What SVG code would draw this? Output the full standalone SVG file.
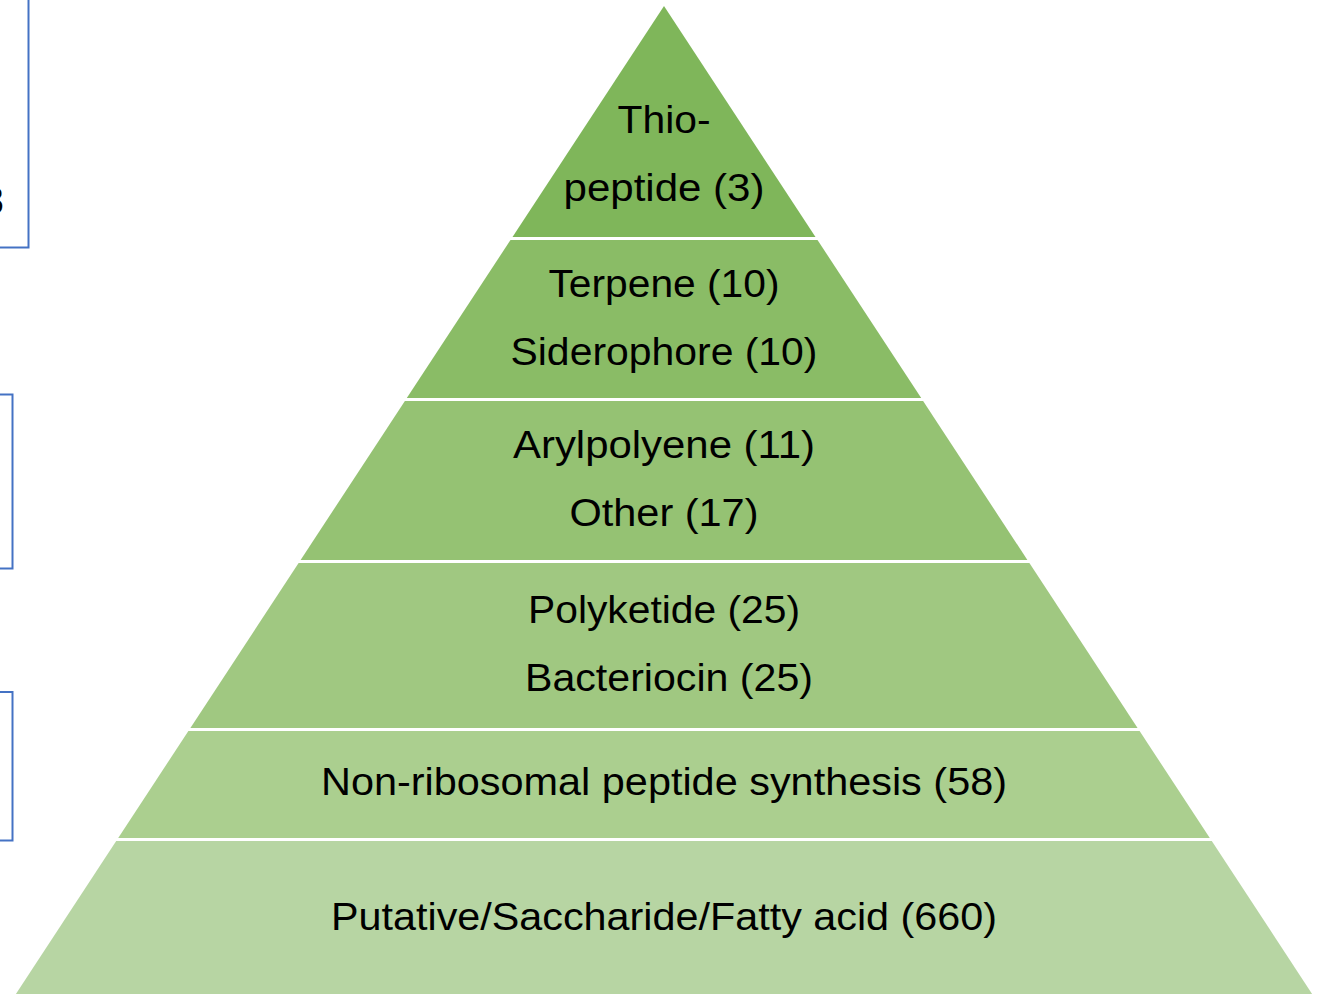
<svg xmlns="http://www.w3.org/2000/svg" width="1318" height="994" viewBox="0 0 1318 994">
<style>
.t{font-family:"Liberation Sans",Arial,sans-serif;font-size:38px;fill:#000;text-anchor:middle}
.box{fill:none;stroke:#4472C4;stroke-width:2}
</style>
<rect width="1318" height="994" fill="#fff"/>
<g id="side-boxes">
<rect class="box" x="-20" y="-10" width="48.5" height="257.5"/>
<text class="t" x="4" y="214" style="text-anchor:end">3</text>
<rect class="box" x="-20" y="394.5" width="32.5" height="174"/>
<rect class="box" x="-20" y="692" width="32.5" height="148.5"/>
</g>
<g id="tier1">
<polygon points="664,6 815.5,237 512.5,237" fill="#7FB65A"/>
<text class="t" x="664" y="133" textLength="93" lengthAdjust="spacingAndGlyphs">Thio-</text>
<text class="t" x="664" y="201" textLength="201" lengthAdjust="spacingAndGlyphs">peptide (3)</text>
</g>
<g id="tier2">
<polygon points="510.5,240 817.5,240 921.2,398 406.8,398" fill="#8ABC66"/>
<text class="t" x="664" y="297" textLength="231" lengthAdjust="spacingAndGlyphs">Terpene (10)</text>
<text class="t" x="664" y="365" textLength="307" lengthAdjust="spacingAndGlyphs">Siderophore (10)</text>
</g>
<g id="tier3">
<polygon points="404.9,401 923.1,401 1027.4,560 300.6,560" fill="#95C273"/>
<text class="t" x="664" y="458" textLength="302" lengthAdjust="spacingAndGlyphs">Arylpolyene (11)</text>
<text class="t" x="664" y="526" textLength="189" lengthAdjust="spacingAndGlyphs">Other (17)</text>
</g>
<g id="tier4">
<polygon points="298.6,563 1029.4,563 1137.6,728 190.4,728" fill="#A0C881"/>
<text class="t" x="664" y="623" textLength="272" lengthAdjust="spacingAndGlyphs">Polyketide (25)</text>
<text class="t" x="669" y="691" textLength="288" lengthAdjust="spacingAndGlyphs">Bacteriocin (25)</text>
</g>
<g id="tier5">
<polygon points="188.4,731 1139.6,731 1209.8,838 118.2,838" fill="#ABCF8F"/>
<text class="t" x="664" y="795" textLength="686" lengthAdjust="spacingAndGlyphs">Non-ribosomal peptide synthesis (58)</text>
</g>
<g id="tier6">
<polygon points="116.2,841 1211.8,841 1312.1,994 15.9,994" fill="#B7D5A3"/>
<text class="t" x="664" y="930" textLength="666" lengthAdjust="spacingAndGlyphs">Putative/Saccharide/Fatty acid (660)</text>
</g>
<g id="connectors"/>
</svg>
